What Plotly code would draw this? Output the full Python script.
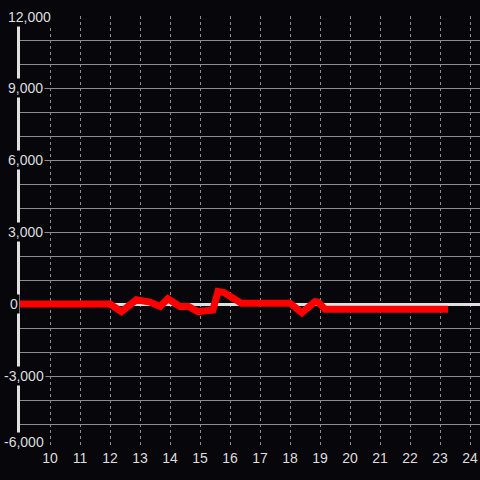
import plotly.graph_objects as go

# hourly power readings (hour of day, value)
hours = [9.0, 12.0, 12.38, 12.88, 13.33, 13.67, 13.93, 14.33, 14.62, 14.93,
         15.43, 15.6, 15.8, 16.38, 18.0, 18.4, 18.83, 18.93, 19.17, 23.27]
values = [0, 0, -320, 180, 80, -100, 220, -100, -100, -320,
          -250, 520, 480, 30, 30, -360, 100, 80, -220, -220]

x_ticks = list(range(10, 25))
y_grid = list(range(-6000, 12001, 1000))
y_labels = [12000, 9000, 6000, 3000, 0, -3000, -6000]

BG = "#07060a"
TXT = "#dddddd"

fig = go.Figure()
fig.add_trace(go.Scatter(x=hours, y=values, mode="lines",
                         line=dict(color="#ff0000", width=7),
                         showlegend=False, hoverinfo="skip"))

fig.update_layout(
    width=480, height=480,
    margin=dict(l=20, r=0, t=16, b=32, autoexpand=False),
    paper_bgcolor=BG, plot_bgcolor=BG,
    font=dict(family="Liberation Sans", size=14, color=TXT),
)
fig.update_xaxes(range=[9, 9 + 460 / 30], tickvals=x_ticks,
                 ticktext=[str(t) for t in x_ticks], automargin=False,
                 showgrid=True, gridcolor="#8c8c8c", griddash="dot", gridwidth=1,
                 zeroline=False, showline=False, ticks="",
                 tickfont=dict(size=14, color=TXT))
fig.update_yaxes(range=[-6000, 12000], tickvals=y_grid, showticklabels=False,
                 showgrid=True, gridcolor="#8c8c8c", gridwidth=1, automargin=False,
                 zeroline=True, zerolinecolor="#e0e0e0", zerolinewidth=3,
                 showline=True, linecolor="#e0e0e0", linewidth=3, ticks="")

# y labels drawn over the axis line with a dark box, like the original
for v in y_labels:
    dx = -4 if v < 0 else (2 if v == 0 else 0)
    dy = 6 if v == y_labels[-1] else (-1 if v == y_labels[0] else 0)
    fig.add_annotation(x=-14 / 460, xref="paper", y=v, yref="y",
                       text=f"{v:,}", showarrow=False, xanchor="left",
                       yanchor="middle", xshift=dx, yshift=dy,
                       bgcolor=BG, borderpad=1,
                       font=dict(size=14, color=TXT))

fig.write_html("out.html", config={"displayModeBar": False}, post_script=(
    "document.body.style.margin='0';"
    f"document.body.style.background='{BG}';"))
